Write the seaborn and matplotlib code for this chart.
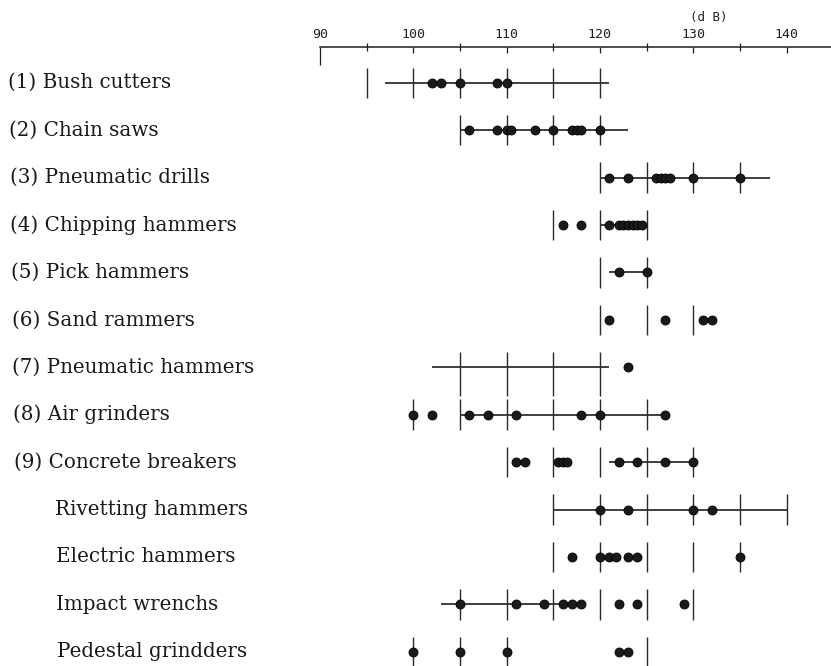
import numpy as np
import pandas as pd
import matplotlib
matplotlib.use("Agg")
import matplotlib.pyplot as plt
import matplotlib.transforms as mtransforms
import seaborn as sns

# Noise sources (top to bottom)
sources = [
    "(1) Bush cutters",
    "(2) Chain saws",
    "(3) Pneumatic drills",
    "(4) Chipping hammers",
    "(5) Pick hammers",
    "(6) Sand rammers",
    "(7) Pneumatic hammers",
    "(8) Air grinders",
    "(9) Concrete breakers",
    "Rivetting hammers",
    "Electric hammers",
    "Impact wrenchs",
    "Pedestal grindders",
]

# Measured noise levels, dB
levels_bush = [102, 103, 105, 109, 110]
levels_chain = [106, 109, 110, 110.5, 113, 115, 117, 117.5, 118, 120]
levels_drill = [121, 123, 126, 126.5, 127, 127.5, 130, 135]
levels_chipping = [116, 118, 121, 122, 122.5, 123, 123.5, 124, 124.5]
levels_pick = [122, 125]
levels_sand = [121, 127, 131, 132]
levels_pneumatic = [123]
levels_air = [100, 102, 106, 108, 111, 118, 120, 127]
levels_concrete = [111, 112, 115.5, 116, 116.5, 122, 124, 127, 130]
levels_rivetting = [120, 123, 130, 132]
levels_electric = [117, 120, 121, 121.7, 123, 124, 135]
levels_impact = [105, 111, 114, 116, 117, 118, 122, 124, 129]
levels_pedestal = [100, 105, 110, 122, 123]

levels = [
    levels_bush, levels_chain, levels_drill, levels_chipping, levels_pick,
    levels_sand, levels_pneumatic, levels_air, levels_concrete,
    levels_rivetting, levels_electric, levels_impact, levels_pedestal,
]

# Reported range of each source (None where no range is given)
ranges = [
    (97, 121), (105, 123), (120, 138.2), (120, 124.5), (121, 125), None,
    (102, 121), (105, 127), (121, 130), (115, 140), None, (103, 118), None,
]

# 5 dB reading marks on each row
marks = [
    [95, 100, 105, 110, 115, 120],
    [105, 110, 115, 120],
    [120, 125, 130, 135],
    [115, 120, 125],
    [120, 125],
    [120, 125, 130],
    [105, 110, 115, 120],
    [100, 105, 110, 115, 120, 125],
    [110, 115, 120, 125, 130],
    [115, 120, 125, 130, 135, 140],
    [115, 120, 125, 130, 135],
    [105, 110, 115, 120, 125, 130],
    [100, 105, 110, 125],
]

scale_major = [90, 100, 110, 120, 130, 140]
scale_minor = [95, 105, 115, 125, 135]

df = pd.DataFrame(
    [(i, v) for i, vals in enumerate(levels) for v in vals],
    columns=["row", "dB"],
)

sns.set_theme(style="white")
plt.rcParams["font.family"] = ["DejaVu Serif"]

W, H = 831, 666
fig = plt.figure(figsize=(W / 100, H / 100), dpi=100)
ax = fig.add_axes([320 / W, 0, 511 / W, (H - 47) / H])

ink = "#1f1f1f"

for i, r in enumerate(ranges):
    if r is not None:
        ax.hlines(i, r[0], r[1], color=ink, lw=1.2, zorder=1)

for i, m in enumerate(marks):
    lo, hi = i - 0.32, i + 0.32
    if i == 6:
        hi = i + 0.6  # these marks run on into the row below
    ax.vlines(m, lo, hi, color="#2a2a2a", lw=1.0, zorder=1)

sns.scatterplot(
    data=df, x="dB", y="row", ax=ax, s=42, color="#1a1a1a",
    edgecolor="black", linewidth=0.6, zorder=3, legend=False,
)

ax.set_xlim(90, 90 + 511 / 9.33)
ax.set_ylim(12.30, -0.753)
ax.set_yticks([])
ax.set_xlabel("")
ax.set_ylabel("")
for s in ["left", "right", "bottom"]:
    ax.spines[s].set_visible(False)
ax.spines["top"].set_linewidth(1.1)
ax.spines["top"].set_color(ink)

ax.xaxis.tick_top()
ax.set_xticks(scale_major)
ax.set_xticks(scale_minor, minor=True)
ax.tick_params(axis="x", which="major", direction="in", length=4, width=0.9,
               pad=4, labelsize=9.5, top=True, bottom=False, colors=ink)
ax.tick_params(axis="x", which="minor", direction="inout", length=6,
               width=0.9, top=True, bottom=False, colors=ink)
for lab in ax.get_xticklabels():
    lab.set_family("DejaVu Sans Mono")
ax.xaxis.get_major_ticks()[0].tick2line.set_markersize(13)

fig.text(709 / W, 1 - 17 / H, "(d B)", ha="center", va="center",
         family="DejaVu Sans Mono", fontsize=9, color=ink)

trans = mtransforms.blended_transform_factory(fig.transFigure, ax.transData)
for i, name in enumerate(sources):
    x_px = (8 if name.startswith("(") else 48) + 0.75 * i
    ax.text(x_px / W, i, name, transform=trans, ha="left", va="center",
            fontsize=14.3, color="#1a1a1a", clip_on=False)

fig.savefig("out.png", dpi=100)
